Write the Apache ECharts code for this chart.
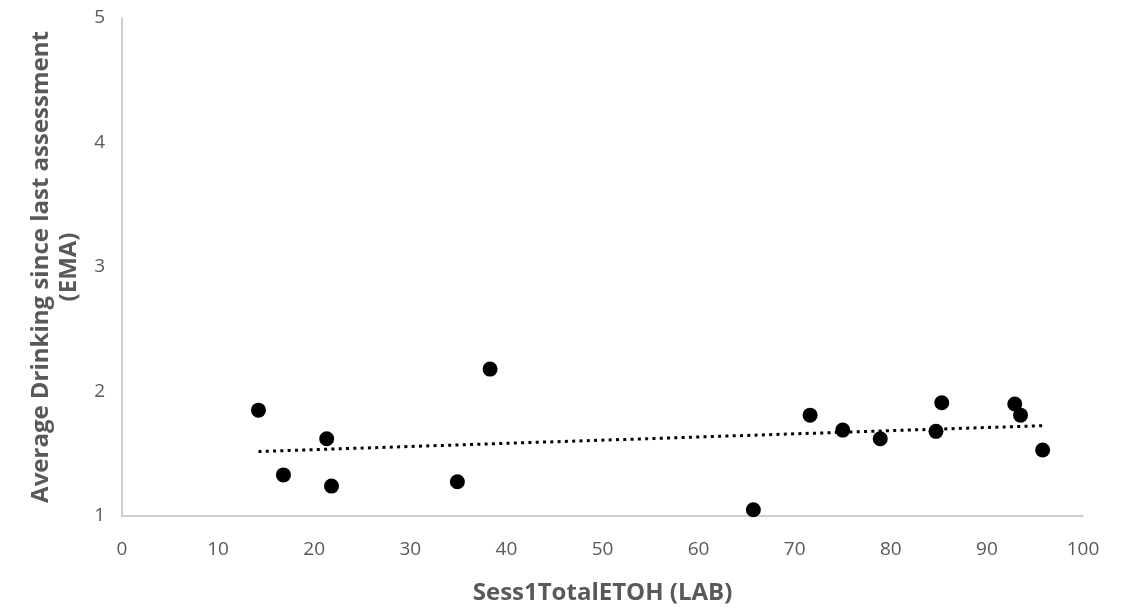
<!DOCTYPE html>
<html>
<head>
<meta charset="utf-8">
<script src="https://cdn.jsdelivr.net/npm/echarts@6/dist/echarts.min.js"></script>
<style>
  html, body { margin: 0; padding: 0; background: #fff; }
  #chart { width: 1123px; height: 614px; }
</style>
</head>
<body>
<div id="chart"></div>
<script>
// values
var etoh = [14.2, 16.8, 21.3, 21.8, 34.9, 38.3, 65.7, 71.6, 75.0, 78.9, 84.7, 85.3, 92.9, 93.5, 95.8];
var drinking = [1.85, 1.33, 1.62, 1.24, 1.275, 2.18, 1.05, 1.81, 1.69, 1.62, 1.68, 1.91, 1.90, 1.81, 1.53];
var xTicks = [0, 10, 20, 30, 40, 50, 60, 70, 80, 90, 100];
var yTicks = [1, 2, 3, 4, 5];

var points = etoh.map(function (x, i) { return [x, drinking[i]]; });

// linear trendline (least squares), like Excel does
var n = etoh.length;
var mx = etoh.reduce(function (a, b) { return a + b; }, 0) / n;
var my = drinking.reduce(function (a, b) { return a + b; }, 0) / n;
var sxy = 0, sxx = 0;
for (var i = 0; i < n; i++) {
    sxy += (etoh[i] - mx) * (drinking[i] - my);
    sxx += (etoh[i] - mx) * (etoh[i] - mx);
}
var slope = sxy / sxx;
var icpt = my - slope * mx;
var xMin = Math.min.apply(null, etoh);
var xMax = Math.max.apply(null, etoh);
var trend = [[xMin, icpt + slope * xMin], [xMax, icpt + slope * xMax]];

var font = '"Open Sans", Lato, sans-serif';
var grey = '#595959';

var chart = echarts.init(document.getElementById('chart'));
chart.setOption({
    animation: false,
    grid: { left: 122, right: 40, top: 18, bottom: 98 },
    xAxis: {
        type: 'value',
        min: xTicks[0],
        max: xTicks[xTicks.length - 1],
        interval: 10,
        name: 'Sess1TotalETOH (LAB)',
        nameLocation: 'middle',
        nameGap: 65,
        nameTextStyle: { color: grey, fontSize: 24, fontWeight: 'bold', fontFamily: font },
        axisLine: { lineStyle: { color: '#bfbfbf', width: 1.5 } },
        axisTick: { show: false },
        splitLine: { show: false },
        axisLabel: { color: grey, fontSize: 19, fontFamily: font, margin: 24 }
    },
    yAxis: {
        type: 'value',
        min: yTicks[0],
        max: yTicks[yTicks.length - 1],
        interval: 1,
        name: 'Average Drinking since last assessment\n(EMA)',
        nameLocation: 'middle',
        nameGap: 36,
        nameTextStyle: { color: grey, fontSize: 24, fontWeight: 'bold', fontFamily: font, lineHeight: 28 },
        axisLine: { show: true, lineStyle: { color: '#bfbfbf', width: 1.5 } },
        axisTick: { show: false },
        splitLine: { show: false },
        axisLabel: { color: grey, fontSize: 19, fontFamily: font, margin: 17 }
    },
    series: [
        {
            type: 'line',
            data: trend,
            symbol: 'none',
            lineStyle: { color: '#000', width: 3, type: [3, 4.3] },
            z: 1
        },
        {
            type: 'scatter',
            data: points,
            symbol: 'circle',
            symbolSize: 15,
            itemStyle: { color: '#000', opacity: 1 },
            z: 2
        }
    ]
});
</script>
</body>
</html>
